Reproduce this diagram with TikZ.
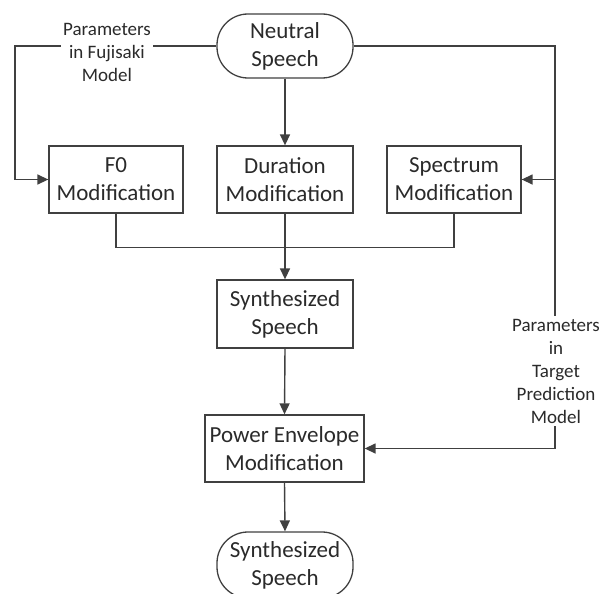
\documentclass[tikz,border=0pt]{standalone}
\usepackage{fontspec}
\setmainfont{Carlito}
\usetikzlibrary{arrows.meta}
\definecolor{ln}{HTML}{404040}
\definecolor{tx}{HTML}{2A2A2A}
\begin{document}
\begin{tikzpicture}[x=1pt,y=-1pt,
  box/.style={draw=ln,line width=1.3pt,fill=white,inner sep=0pt,align=center,
    text=tx,font=\fontsize{23}{28}\selectfont,minimum height=67pt},
  term/.style={box,rounded corners=31pt,minimum height=64pt},
  lab/.style={fill=white,inner xsep=2pt,inner ysep=3pt,align=center,text=tx,
    font=\fontsize{19}{23}\selectfont},
  conn/.style={draw=ln,line width=1.4pt},
  arr/.style={conn,-{Triangle[length=11pt,width=10pt]}}]
\useasboundingbox (0,0) rectangle (605,594);
\node[term,minimum width=136pt] (neutral) at (285,46) {Neutral\\Speech};
\node[box,minimum width=134pt] (f0) at (116,179.5) {F0\\Modification};
\node[box,minimum width=136pt] (dur) at (285,179.5) {Duration\\Modification};
\node[box,minimum width=134pt] (spec) at (454,179.5) {Spectrum\\Modification};
\node[box,minimum width=136pt,minimum height=68pt] (synth) at (285,314) {Synthesized\\Speech};
\node[box,minimum width=159pt] (power) at (284.5,448.5) {Power Envelope\\Modification};
\node[term,minimum width=136pt,minimum height=66pt] (final) at (285,565) {Synthesized\\Speech};
\coordinate (L) at (15,46);
\coordinate (R) at (555,46);
\draw[arr] (neutral.west) -- (L) |- (f0.west);
\draw[arr] (neutral.east) -- (R) |- (spec.east);
\draw[arr] (R) |- (power.east);
\draw[arr] (neutral.south) -- (dur.north);
\draw[conn] (f0.south) -- ++(0,34) -| (spec.south);
\draw[arr] (dur.south) -- (synth.north);
\draw[arr] (synth.south) -- (power.north);
\draw[arr] (power.south) -- (final.north);
\node[lab] (labF) at (107,52) {Parameters\\in Fujisaki\\Model};
\node[lab] (labT) at (556,371) {Parameters\\in\\Target\\Prediction\\Model};
\end{tikzpicture}
\end{document}
